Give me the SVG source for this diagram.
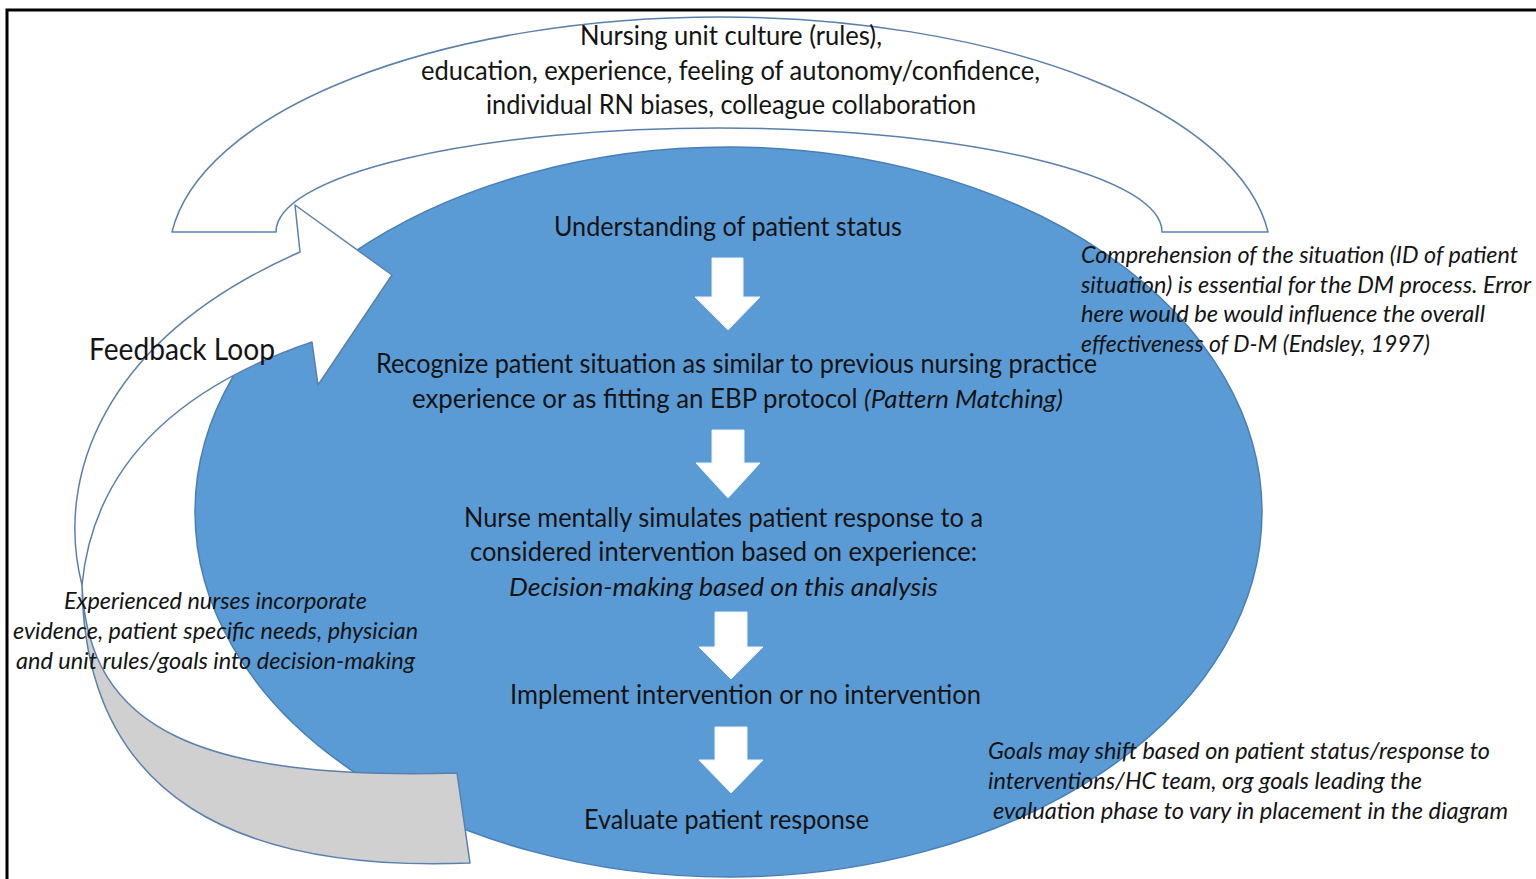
<svg xmlns="http://www.w3.org/2000/svg" width="1536" height="879" viewBox="0 0 1536 879">
  <style>
    .t { font-family: Lato, "Liberation Sans", sans-serif; fill: #141414; }
    .main { font-size: 26px; text-anchor: middle; }
    .note { font-size: 23px; font-style: italic; }
    .it { font-style: italic; }
    .band { stroke: #5b80ad; stroke-width: 1.5; stroke-linejoin: round; }
    .step { fill: #ffffff; stroke: #eef3fa; stroke-width: 1; }
  </style>

  <rect width="1536" height="879" fill="#ffffff"/>

  <!-- frame -->
  <path d="M7,879 V10 H1536" fill="none" stroke="#000000" stroke-width="3"/>

  <!-- influencing factors: block arc over the cycle -->
  <g id="factors">
    <path class="band" fill="#ffffff" d="M172,232 A551,240 0 0 1 1268,232 L1162,232 A443,104 0 0 0 276,232 Z"/>
    <text class="t main" x="731" y="45" textLength="302" lengthAdjust="spacingAndGlyphs">Nursing unit culture (rules),</text>
    <text class="t main" x="730.5" y="80" textLength="619" lengthAdjust="spacingAndGlyphs">education, experience, feeling of autonomy/confidence,</text>
    <text class="t main" x="731" y="114" textLength="490" lengthAdjust="spacingAndGlyphs">individual RN biases, colleague collaboration</text>
  </g>

  <!-- decision-making cycle -->
  <g id="cycle">
    <ellipse cx="728.5" cy="512" rx="533.5" ry="365" fill="#5b9bd5" stroke="#4a7fb5" stroke-width="1.5"/>
  </g>

  <!-- step arrows -->
  <g id="connectors">
    <polygon class="step" points="712,258 743,258 743,297 760,297 728,330 695,297 712,297"/>
    <polygon class="step" points="712,430 744,430 744,463 760,463 728,498 696,463 712,463"/>
    <polygon class="step" points="715,612 747,612 747,647 763,647 731,679 699,647 715,647"/>
    <polygon class="step" points="715,727 747,727 747,760 763,760 731,793 699,760 715,760"/>
  </g>

  <!-- feedback loop ribbon: shaded back part and white arrow -->
  <g id="feedback">
    <path class="band" fill="#d0d0d0" d="M82,585 C88,730 200,780 457,773 L470,863 C240,872 85,800 82,585 Z"/>
    <path class="band" fill="#ffffff" d="M82,585 C55,480 100,340 300,252 L295,205 L392,275 L318,385 L312,342 C200,380 95,450 82,585 Z"/>
    <text class="t" x="89" y="360" font-size="30" textLength="186" lengthAdjust="spacingAndGlyphs">Feedback Loop</text>
  </g>

  <!-- cycle steps -->
  <g id="step-understand">
    <text class="t main" x="728" y="236" textLength="348" lengthAdjust="spacingAndGlyphs">Understanding of patient status</text>
  </g>
  <g id="step-recognize">
    <text class="t main" x="736.5" y="373" textLength="721" lengthAdjust="spacingAndGlyphs">Recognize patient situation as similar to previous nursing practice</text>
    <text class="t main" x="737.5" y="408" textLength="651" lengthAdjust="spacingAndGlyphs">experience or as fitting an EBP protocol <tspan class="it">(Pattern Matching)</tspan></text>
  </g>
  <g id="step-simulate">
    <text class="t main" x="723.5" y="527" textLength="519" lengthAdjust="spacingAndGlyphs">Nurse mentally simulates patient response to a</text>
    <text class="t main" x="723.5" y="561" textLength="507" lengthAdjust="spacingAndGlyphs">considered intervention based on experience:</text>
    <text class="t main it" x="723.5" y="596" textLength="429" lengthAdjust="spacingAndGlyphs">Decision-making based on this analysis</text>
  </g>
  <g id="step-implement">
    <text class="t main" x="745.5" y="704" textLength="471" lengthAdjust="spacingAndGlyphs">Implement intervention or no intervention</text>
  </g>
  <g id="step-evaluate">
    <text class="t main" x="726.5" y="829" textLength="285" lengthAdjust="spacingAndGlyphs">Evaluate patient response</text>
  </g>

  <!-- annotations -->
  <g id="note-comprehension">
    <text class="t note" x="1081" y="263" textLength="437" lengthAdjust="spacingAndGlyphs">Comprehension of the situation (ID of patient</text>
    <text class="t note" x="1081" y="293" textLength="450" lengthAdjust="spacingAndGlyphs">situation) is essential for the DM process. Error</text>
    <text class="t note" x="1081" y="322" textLength="404" lengthAdjust="spacingAndGlyphs">here would be would influence the overall</text>
    <text class="t note" x="1081" y="352" textLength="349" lengthAdjust="spacingAndGlyphs">effectiveness of D-M (Endsley, 1997)</text>
  </g>
  <g id="note-goals">
    <text class="t note" x="988" y="759" textLength="502" lengthAdjust="spacingAndGlyphs">Goals may shift based on patient status/response to</text>
    <text class="t note" x="988" y="789" textLength="434" lengthAdjust="spacingAndGlyphs">interventions/HC team, org goals leading the</text>
    <text class="t note" x="993" y="819" textLength="515" lengthAdjust="spacingAndGlyphs">evaluation phase to vary in placement in the diagram</text>
  </g>
  <g id="note-experienced">
    <text class="t note" x="215.5" y="609" text-anchor="middle" textLength="303" lengthAdjust="spacingAndGlyphs">Experienced nurses incorporate</text>
    <text class="t note" x="215.5" y="639" text-anchor="middle" textLength="405" lengthAdjust="spacingAndGlyphs">evidence, patient specific needs, physician</text>
    <text class="t note" x="215.5" y="669" text-anchor="middle" textLength="399" lengthAdjust="spacingAndGlyphs">and unit rules/goals into decision-making</text>
  </g>
</svg>
